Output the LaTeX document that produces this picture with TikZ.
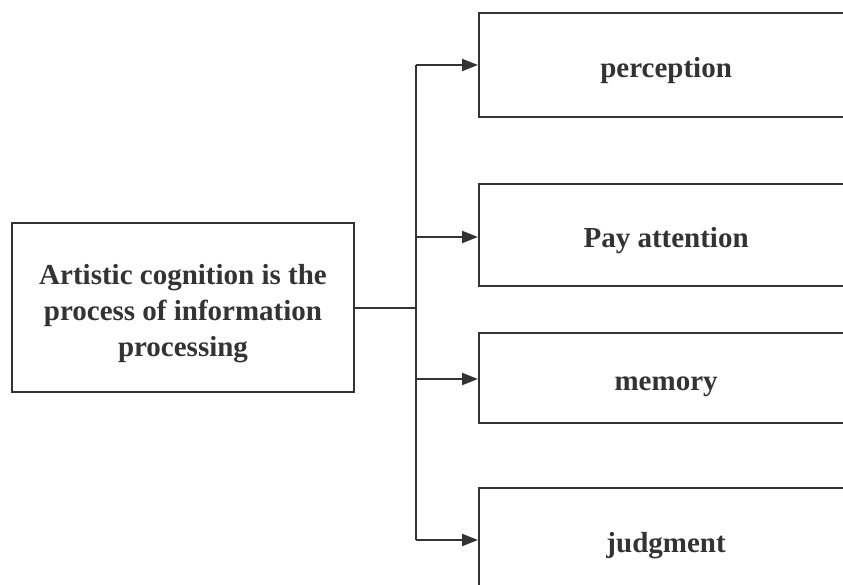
\documentclass[tikz,border=0pt]{standalone}
\usepackage{fontspec}
\setmainfont{Liberation Serif}
\usetikzlibrary{arrows.meta}
\definecolor{ink}{HTML}{333333}
\newcommand\dnbox[1]{\raisebox{-12pt}[0pt][0pt]{\begin{tabular}{@{}c@{}}#1\end{tabular}}}
\begin{document}
\begin{tikzpicture}[x=1pt,y=1pt,
  box/.style={draw=ink,line width=2.2pt,text=ink,font=\bfseries\fontsize{29}{36}\selectfont,align=center,inner sep=0pt},
  conn/.style={draw=ink,line width=2.2pt},
  arr/.style={conn,-{Triangle[length=16pt,width=12pt]}}]
\useasboundingbox (0,0) rectangle (843,584);
\clip (0,0) rectangle (843,584);
\node[box,minimum width=342,minimum height=169] (src) at (183,276.5) {\dnbox{Artistic cognition is the\\process of information\\processing}};
\node[box,minimum width=374,minimum height=104,anchor=west] (p) at (478,519) {\dnbox{perception}};
\node[box,minimum width=374,minimum height=102,anchor=west] (a) at (478,349) {\dnbox{Pay attention}};
\node[box,minimum width=374,minimum height=90,anchor=west] (m) at (478,206) {\dnbox{memory}};
\node[box,minimum width=374,minimum height=104,anchor=west] (j) at (478,44) {\dnbox{judgment}};
\coordinate (hub) at (416,276);
\draw[conn] (src.east |- hub) -- (hub);
\draw[conn] (416,519) -- (416,44);
\draw[arr] (416,519) -- (p.west);
\draw[arr] (416,347) -- (a.west |- 0,347);
\draw[arr] (416,205) -- (m.west |- 0,205);
\draw[arr] (416,44) -- (j.west);
\end{tikzpicture}
\end{document}
